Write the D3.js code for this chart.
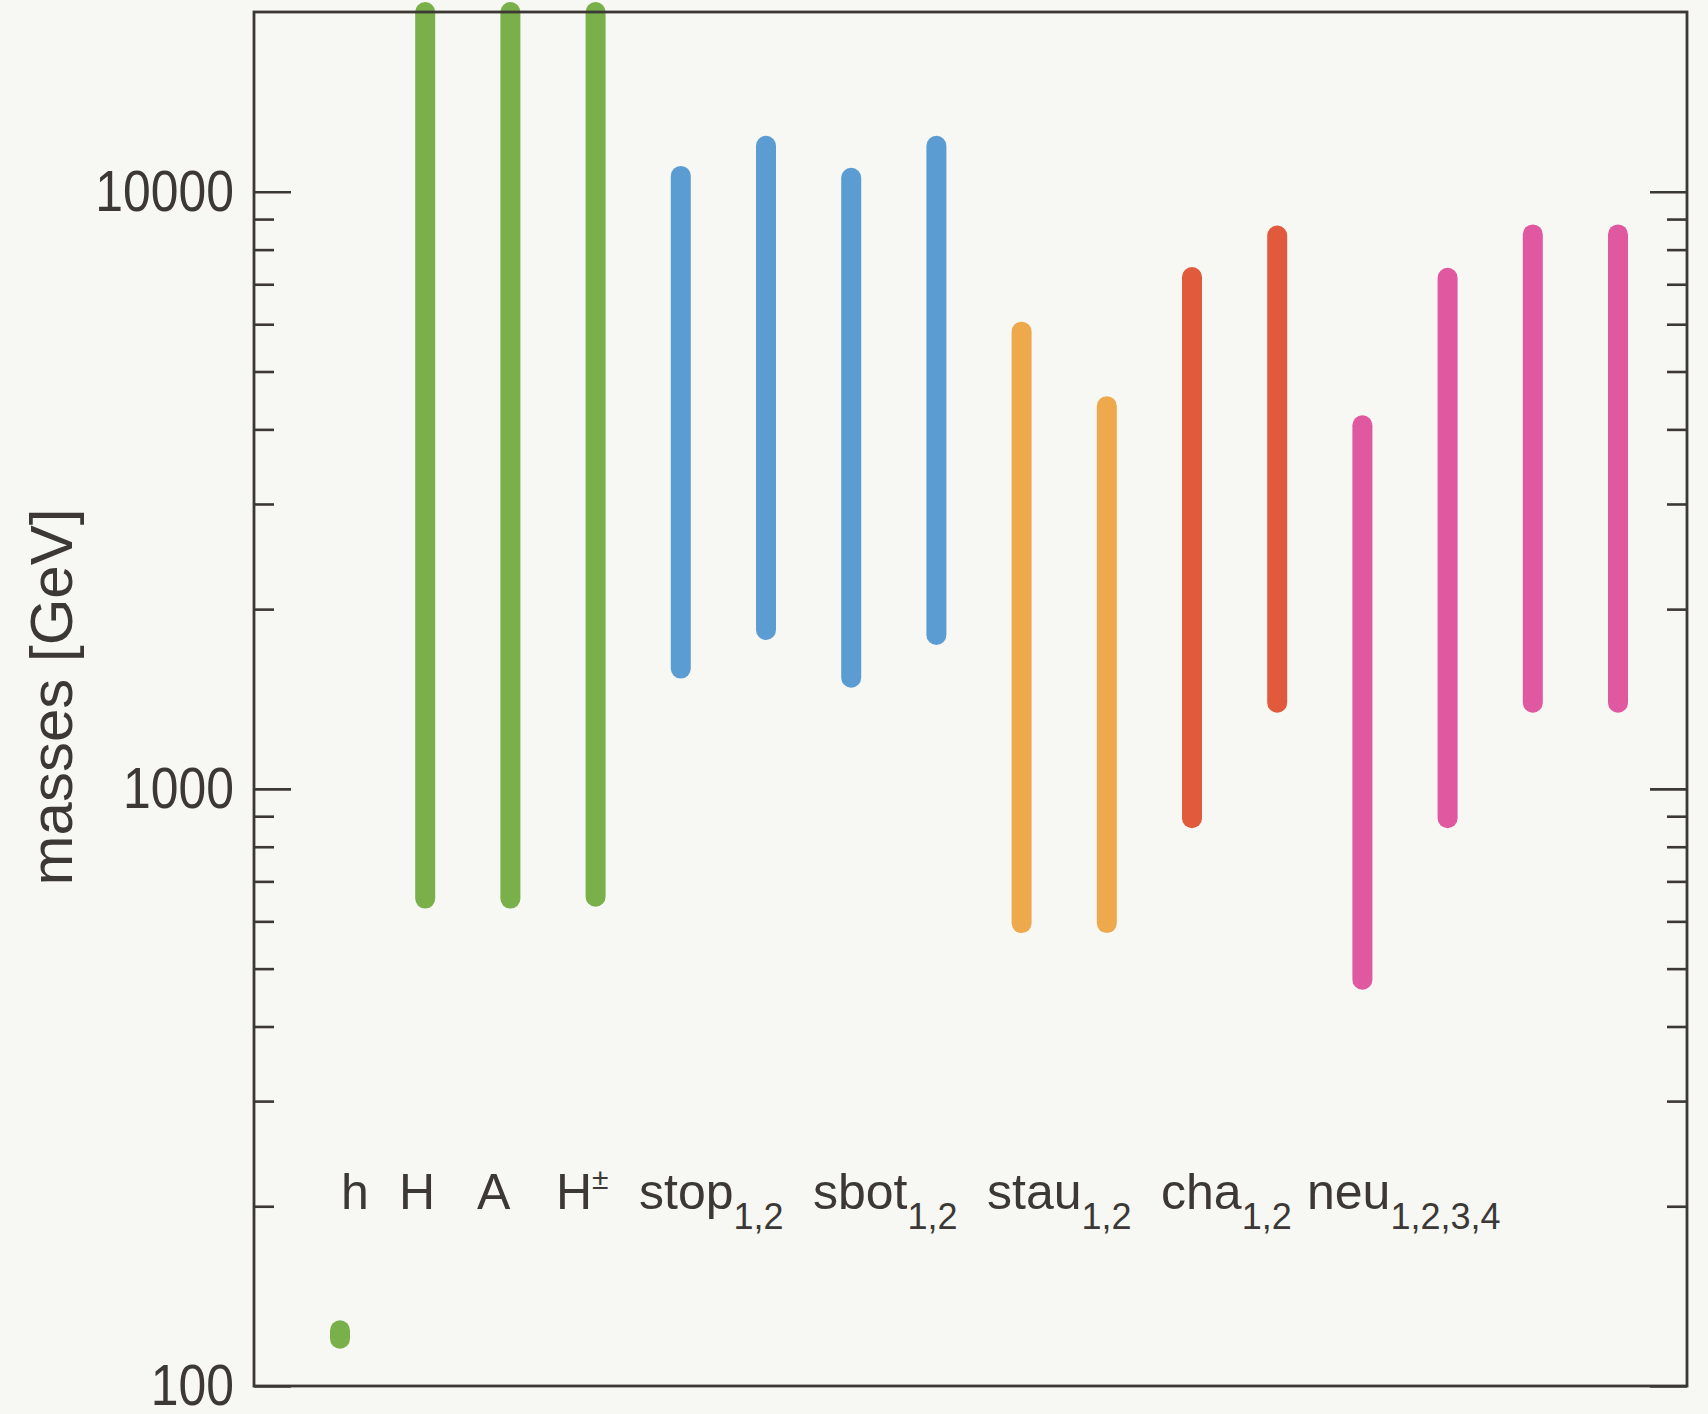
<!DOCTYPE html>
<meta charset="utf-8">
<style>
  body { margin: 0; background: #f7f7f3; }
  svg text { font-family: "Liberation Sans", Arial, sans-serif; fill: #3b3835; }
</style>
<body>
<svg id="chart" width="1708" height="1414"></svg>
<script src="https://d3js.org/d3.v7.min.js"></script>
<script>

// particle names, one bar each
var particles = ["h", "H", "A", "Hpm", "stop1", "stop2", "sbot1", "sbot2",
                 "stau1", "stau2", "cha1", "cha2", "neu1", "neu2", "neu3", "neu4"];
var groups = ["higgs", "higgs", "higgs", "higgs", "stop", "stop", "sbot", "sbot",
              "stau", "stau", "cha", "cha", "neu", "neu", "neu", "neu"];
// mass ranges in GeV
var massLow  = [120, 655, 655, 660, 1590, 1845, 1535, 1810, 596, 596, 893, 1394, 479, 893, 1394, 1394];
var massHigh = [124, 20000, 20000, 20000, 10630, 11940, 10550, 11940, 5830, 4375, 7195, 8444, 4064, 7175, 8484, 8484];

var majorTicks = [100, 1000, 10000];
var minorTicks = [200, 300, 400, 500, 600, 700, 800, 900, 2000, 3000, 4000, 5000, 6000, 7000, 8000, 9000];

// category label row: main text and subscript / superscript
var labelMain = ["h", "H", "A", "H", "stop", "sbot", "stau", "cha", "neu"];
var labelSub  = ["", "", "", "", "1,2", "1,2", "1,2", "1,2", "1,2,3,4"];
var labelSup  = ["", "", "", "\u00b1", "", "", "", "", ""];
var labelX    = [341, 399, 477, 556, 639, 813, 987, 1161, 1307];

var colors = {higgs: "#79b04a", stop: "#5b9dd3", sbot: "#5b9dd3", stau: "#eda94c",
              cha: "#e15a3c", neu: "#e0589f"};

var svg = d3.select("#chart");
var plotL = 254, plotR = 1687, plotT = 12, plotB = 1386;

var x = d3.scalePoint().domain(particles).range([340, 1618]);
var y = d3.scaleLog().domain([100, 20000]).range([plotB, plotT]);

// the bars
svg.append("g")
  .selectAll("line")
  .data(particles)
  .enter()
  .append("line")
    .attr("x1", function(d) { return x(d); })
    .attr("x2", function(d) { return x(d); })
    .attr("y1", function(d, i) { return y(massLow[i]); })
    .attr("y2", function(d, i) { return y(massHigh[i]); })
    .attr("stroke", function(d, i) { return colors[groups[i]]; })
    .attr("stroke-width", 20)
    .attr("stroke-linecap", "round");

// frame
svg.append("rect")
  .attr("x", plotL).attr("y", plotT)
  .attr("width", plotR - plotL).attr("height", plotB - plotT)
  .attr("fill", "none")
  .attr("stroke", "#3b3835")
  .attr("stroke-width", 2.8);

function styleAxis(g) {
  g.select(".domain").remove();
  g.selectAll("line").attr("stroke", "#3b3835").attr("stroke-width", 2.6);
}

// left axis, labels a bit condensed like the original
var sx = 0.86;
svg.append("g")
  .attr("transform", "translate(" + plotL + ",0)")
  .call(d3.axisLeft(y).tickValues(majorTicks).tickSizeInner(-37).tickSizeOuter(0)
        .tickPadding(20).tickFormat(d3.format("d")))
  .call(styleAxis)
  .call(function(g) {
    g.selectAll("text")
      .style("font-size", "58px")
      .attr("x", -20 / sx)
      .attr("transform", "scale(" + sx + ",1)")
      .attr("fill", "#3b3835");
  });
svg.append("g")
  .attr("transform", "translate(" + plotL + ",0)")
  .call(d3.axisLeft(y).tickValues(minorTicks).tickSizeInner(-20).tickSizeOuter(0).tickFormat(""))
  .call(styleAxis);

// right axis
svg.append("g")
  .attr("transform", "translate(" + plotR + ",0)")
  .call(d3.axisRight(y).tickValues(majorTicks).tickSizeInner(-37).tickSizeOuter(0).tickFormat(""))
  .call(styleAxis);
svg.append("g")
  .attr("transform", "translate(" + plotR + ",0)")
  .call(d3.axisRight(y).tickValues(minorTicks).tickSizeInner(-20).tickSizeOuter(0).tickFormat(""))
  .call(styleAxis);

// y label
svg.append("text")
  .attr("transform", "translate(72,697) rotate(-90)")
  .attr("text-anchor", "middle")
  .style("font-size", "60px")
  .text("masses [GeV]");

// category labels
var lab = svg.append("g").selectAll("text")
  .data(labelMain)
  .enter()
  .append("text")
    .attr("x", function(d, i) { return labelX[i]; })
    .attr("y", 1209)
    .style("font-size", "50px");
lab.append("tspan").text(function(d) { return d; });
lab.append("tspan")
  .attr("dy", -20)
  .style("font-size", "30px")
  .text(function(d, i) { return labelSup[i]; });
lab.append("tspan")
  .attr("dy", function(d, i) { return labelSub[i] ? 20 : 0; })
  .style("font-size", "36px")
  .text(function(d, i) { return labelSub[i]; });

</script>
</body>
